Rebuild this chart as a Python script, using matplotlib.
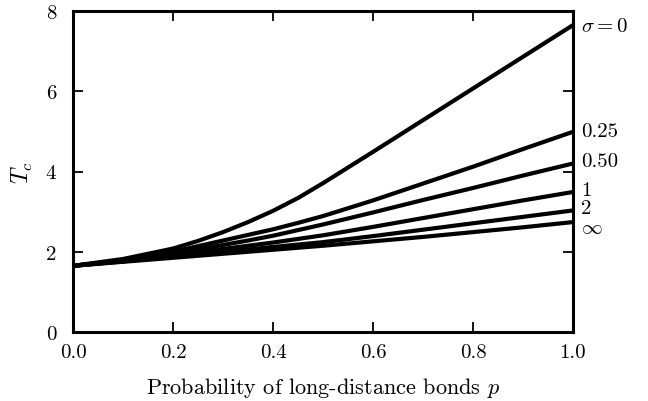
import numpy as np
import matplotlib.pyplot as plt

plt.rcParams['font.family'] = 'serif'
plt.rcParams['font.serif'] = ['cmr10', 'DejaVu Serif']
plt.rcParams['mathtext.fontset'] = 'cm'
plt.rcParams['axes.formatter.use_mathtext'] = True

# data
p = [0.0, 0.1, 0.2, 0.25, 0.3, 0.35, 0.4, 0.45, 0.5, 0.6, 0.7, 0.8, 0.9, 1.0]
tc_s0 = [1.65, 1.82, 2.08, 2.27, 2.49, 2.74, 3.02, 3.34, 3.71, 4.49, 5.28, 6.07, 6.86, 7.65]
tc_s025 = [1.65, 1.79, 2.00, 2.14, 2.28, 2.42, 2.56, 2.72, 2.89, 3.28, 3.70, 4.12, 4.56, 4.99]
tc_s050 = [1.65, 1.78, 1.95, 2.06, 2.17, 2.28, 2.40, 2.54, 2.68, 2.98, 3.29, 3.59, 3.90, 4.20]
tc_s1 = [1.65, 1.77, 1.91, 1.99, 2.07, 2.15, 2.23, 2.32, 2.41, 2.62, 2.84, 3.06, 3.28, 3.49]
tc_s2 = [1.65, 1.76, 1.88, 1.94, 2.00, 2.06, 2.12, 2.18, 2.24, 2.39, 2.55, 2.71, 2.87, 3.03]
tc_sinf = [1.65, 1.75, 1.85, 1.90, 1.95, 2.00, 2.05, 2.10, 2.15, 2.26, 2.37, 2.49, 2.61, 2.74]

curves = [tc_s0, tc_s025, tc_s050, tc_s1, tc_s2, tc_sinf]
labels = [r'$\sigma = 0$', '0.25', '0.50', '1', '2', r'$\infty$']
label_y = [7.62, 5.0, 4.25, 3.55, 3.1, 2.58]

fig = plt.figure(figsize=(6.48, 4.02), dpi=100)
ax = fig.add_axes([0.1127, 0.1716, 0.7716, 0.7985])

for tc in curves:
    ax.plot(p, tc, color='black', lw=3.0, solid_capstyle='butt', solid_joinstyle='round')

for lab, y in zip(labels, label_y):
    ax.text(1.016, y, lab, fontsize=15, va='center', ha='left', clip_on=False)

ax.set_xlim(0, 1)
ax.set_ylim(0, 8)
ax.set_xticks([0.0, 0.2, 0.4, 0.6, 0.8, 1.0])
ax.set_xticklabels(['0.0', '0.2', '0.4', '0.6', '0.8', '1.0'])
ax.set_yticks([0, 2, 4, 6, 8])
ax.set_yticklabels(['0', '2', '4', '6', '8'])
ax.tick_params(direction='in', length=7, width=1.3, top=True, right=True,
               labelsize=15)
ax.tick_params(axis='x', pad=8)
ax.tick_params(axis='y', pad=12)
for s in ax.spines.values():
    s.set_linewidth(2.2)

ax.set_xlabel(r'Probability of long-distance bonds $p$', fontsize=16, labelpad=10)
ax.set_ylabel(r'$T_c$', fontsize=17, labelpad=8)

plt.savefig('out.png', dpi=100)
